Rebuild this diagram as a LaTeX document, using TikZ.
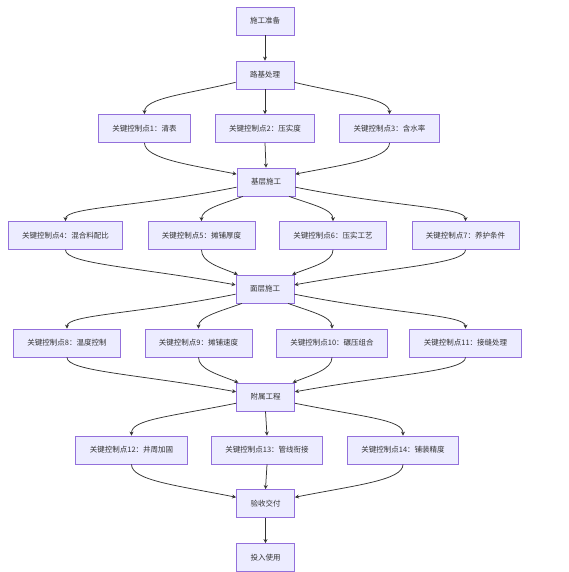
\documentclass[tikz,border=0pt]{standalone}
\usepackage{fontspec}
\setmainfont{Noto Sans CJK SC}
\usetikzlibrary{arrows.meta}
\definecolor{boxfill}{HTML}{ECECFF}
\definecolor{boxline}{HTML}{9370DB}
\definecolor{ink}{HTML}{333333}
\begin{document}
\begin{tikzpicture}[x=1pt,y=-1pt,
  box/.style={draw=boxline,fill=boxfill,line width=0.8pt,minimum height=28pt,
    inner xsep=14pt,inner ysep=0pt,text=ink,font=\fontsize{7.5}{9}\selectfont},
  edge/.style={draw=ink,line width=0.75pt,-{Stealth[length=4pt,width=4pt]}}]
\useasboundingbox (0,0) rectangle (568,572);

% main stages
\node[box] (A) at (265,21) {施工准备};
\node[box] (B) at (265,75) {路基处理};
\node[box] (D) at (266,182) {基层施工};
\node[box] (E) at (265,289) {面层施工};
\node[box] (F) at (265.5,397) {附属工程};
\node[box] (G) at (265.5,503.5) {验收交付};
\node[box] (H) at (265.5,557.5) {投入使用};

% control points
\node[box] (C1) at (144.5,128.5) {关键控制点1：清表};
\node[box] (C2) at (265,128.5) {关键控制点2：压实度};
\node[box] (C3) at (389.5,128.5) {关键控制点3：含水率};
\node[box] (C4) at (65.5,235.5) {关键控制点4：混合料配比};
\node[box] (C5) at (201.5,235.5) {关键控制点5：摊铺厚度};
\node[box] (C6) at (333,235.5) {关键控制点6：压实工艺};
\node[box] (C7) at (465.5,235.5) {关键控制点7：养护条件};
\node[box] (C8) at (67,343) {关键控制点8：温度控制};
\node[box] (C9) at (198.5,343) {关键控制点9：摊铺速度};
\node[box] (C10) at (332,343) {关键控制点10：碾压组合};
\node[box] (C11) at (465.5,343) {关键控制点11：接缝处理};
\node[box] (C12) at (131.5,450) {关键控制点12：井周加固};
\node[box] (C13) at (267,450) {关键控制点13：管线衔接};
\node[box] (C14) at (403,450) {关键控制点14：铺装精度};

% straight links
\draw[edge] (A.south) -- (B.north);
\draw[edge] (B.south) -- (C2.north);
\draw[edge] (C2.south) -- (D.north);
\draw[edge] (F.south) -- (C13.north);
\draw[edge] (C13.south) -- (G.north);
\draw[edge] (G.south) -- (H.north);

% subgrade
\draw[edge] (B.194) .. controls +(-50,12) and +(0,-16) .. (C1.north);
\draw[edge] (B.346) .. controls +(50,12) and +(0,-16) .. (C3.north);
\draw[edge] (C1.south) .. controls +(0,16) and +(-45,-9) .. (D.165);
\draw[edge] (C3.south) .. controls +(0,16) and +(45,-9) .. (D.15);

% base course
\draw[edge] (D.190) .. controls +(-100,20) and +(0,-14) .. (C4.north);
\draw[edge] (D.212) .. controls +(-22,8) and +(0,-12) .. (C5.north);
\draw[edge] (D.328) .. controls +(22,8) and +(0,-12) .. (C6.north);
\draw[edge] (D.350) .. controls +(100,20) and +(0,-14) .. (C7.north);
\draw[edge] (C4.south) .. controls +(0,14) and +(-100,-18) .. (E.172);
\draw[edge] (C5.south) .. controls +(0,12) and +(-20,-8) .. (E.152);
\draw[edge] (C6.south) .. controls +(0,12) and +(20,-8) .. (E.28);
\draw[edge] (C7.south) .. controls +(0,14) and +(100,-18) .. (E.8);

% surface course
\draw[edge] (E.190) .. controls +(-100,20) and +(0,-14) .. (C8.north);
\draw[edge] (E.212) .. controls +(-22,8) and +(0,-12) .. (C9.north);
\draw[edge] (E.328) .. controls +(22,8) and +(0,-12) .. (C10.north);
\draw[edge] (E.350) .. controls +(100,20) and +(0,-14) .. (C11.north);
\draw[edge] (C8.south) .. controls +(0,14) and +(-100,-18) .. (F.170);
\draw[edge] (C9.south) .. controls +(0,12) and +(-20,-8) .. (F.152);
\draw[edge] (C10.south) .. controls +(0,12) and +(20,-8) .. (F.28);
\draw[edge] (C11.south) .. controls +(0,14) and +(100,-18) .. (F.10);

% ancillary works
\draw[edge] (F.192) .. controls +(-70,14) and +(0,-16) .. (C12.north);
\draw[edge] (F.348) .. controls +(70,14) and +(0,-16) .. (C14.north);
\draw[edge] (C12.south) .. controls +(0,16) and +(-60,-12) .. (G.168);
\draw[edge] (C14.south) .. controls +(0,16) and +(60,-12) .. (G.12);
\end{tikzpicture}
\end{document}
